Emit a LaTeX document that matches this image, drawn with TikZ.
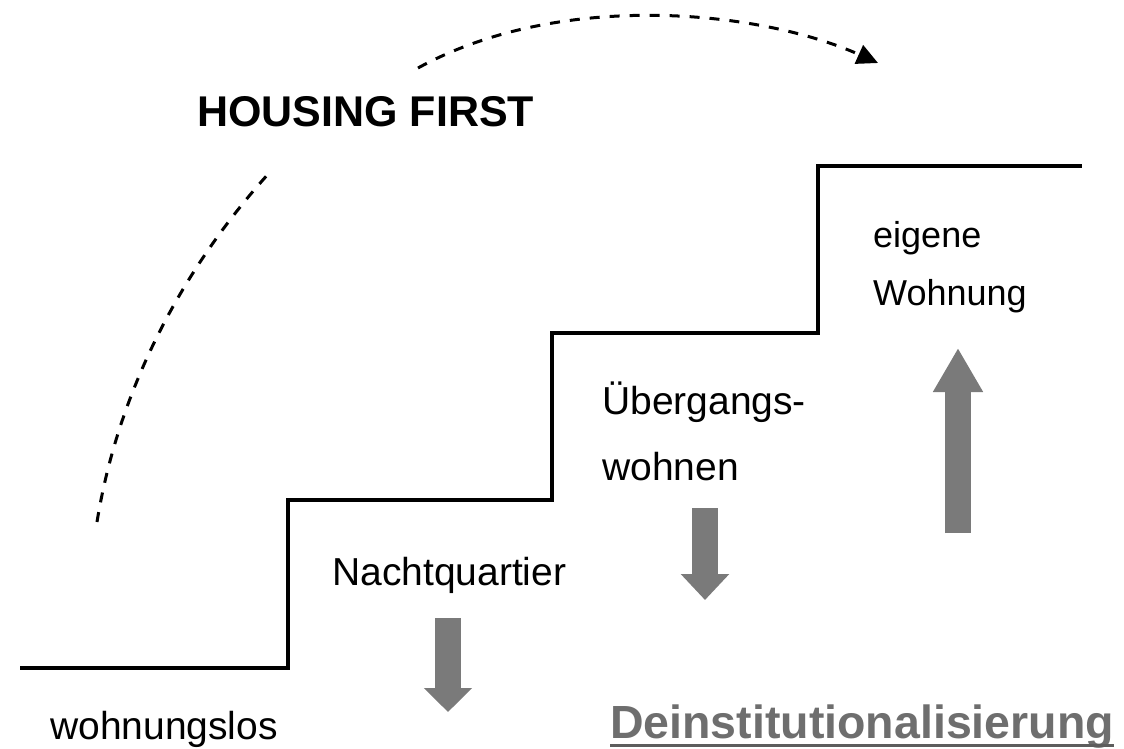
\documentclass[tikz,border=0pt]{standalone}
\usepackage{xcolor}
\usepackage{fontspec}
\setmainfont{Liberation Sans}
\usepackage{tikz}
\usetikzlibrary{arrows.meta,positioning}

\definecolor{arrowgray}{RGB}{122,122,122}
\definecolor{deinstgray}{RGB}{110,110,110}

\begin{document}
\begin{tikzpicture}[
			x=1pt, y=-1pt,
			every node/.style={inner sep=0pt, anchor=base west},
			lbl/.style={font=\fontsize{39}{40}\selectfont},
			stairs/.style={draw, line width=3.2pt, line join=miter},
			leap/.style={draw, line width=3pt, dash pattern=on 10pt off 10pt},
			blockarrow/.style={draw=arrowgray, line width=26pt},
			>=stealth
			]
			\useasboundingbox (0,0) rectangle (1124,749);
			
			% the stairs
			\draw[stairs] (20,668) -| (288,500) -| (552,333) -| (818,166) -- (1082,166);
			
			% labels of the steps
			\node[lbl] (los) at (50,739) {wohnungslos};
			\node[lbl] (nacht) at (332,585) {Nachtquartier};
			\node[lbl] (ueber) at (602,414) {Übergangs-};
			\node[lbl] (wohnen) at ([yshift=-66pt]ueber.base west) {wohnen};
			\node[lbl, font=\fontsize{36}{38}\selectfont] (eigene) at (873,247) {eigene};
			\node[lbl, font=\fontsize{36}{38}\selectfont] (wohnung) at ([yshift=-58pt]eigene.base west) {Wohnung};
			\node[font=\fontsize{43}{44}\selectfont\bfseries] (hf) at (197,127) {HOUSING FIRST};
			\node[font=\fontsize{46.5}{48}\selectfont\bfseries, text=deinstgray] (deinst) at (610,738) {Deinstitutionalisierung};
			\draw[draw=deinstgray!85!black, line width=3pt] ([yshift=-7pt]deinst.base west) -- ([yshift=-7pt]deinst.base east);
			
			% the leap over the stairs
			\coordinate (arcA) at (97,522);
			\coordinate (arcB) at (270,172);
			\coordinate (arcC) at (418,68);
			\coordinate (arcD) at (878,63);
			\draw[leap] (arcA) .. controls (120,380) and (190,260) .. (arcB);
			\draw[leap, -{Triangle[length=21pt,width=20pt]}] (arcC) .. controls (560,-10) and (760,10) .. (arcD);
			
			% grey block arrows
			\coordinate (a1s) at (448,618);
			\coordinate (a1e) at (448,712);
			\coordinate (a2s) at (705,508);
			\coordinate (a2e) at (705,600);
			\coordinate (a3s) at (958,533);
			\coordinate (a3e) at (958,348);
			\draw[blockarrow, -{Triangle[length=24pt,width=47pt]}] (a1s) -- (a1e);
			\draw[blockarrow, -{Triangle[length=26pt,width=47pt]}] (a2s) -- (a2e);
			\draw[blockarrow, -{Triangle[length=44pt,width=47pt]}] (a3s) -- (a3e);
		\end{tikzpicture}
\end{document}
